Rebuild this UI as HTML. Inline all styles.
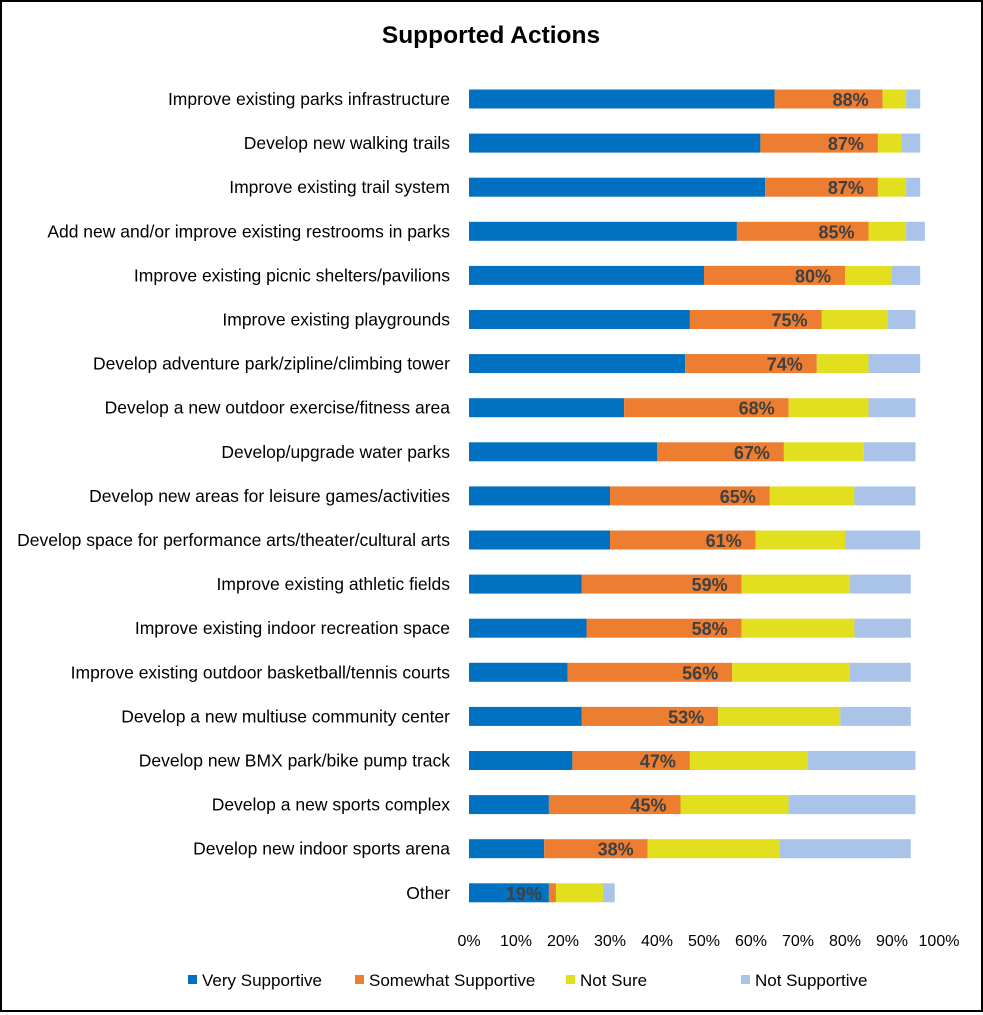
<!DOCTYPE html>
<html><head><meta charset="utf-8">
<style>
body{margin:0;background:#fff;}
#wrap{position:relative;width:983px;height:1012px;box-sizing:border-box;border:2px solid #000;background:#fff;font-family:"Liberation Sans",sans-serif;}
svg text{font-family:"Liberation Sans",sans-serif;}
</style></head><body>
<div id="wrap">
<svg id="chart" width="979" height="1008"></svg>
</div>
<script>
const categories=["Improve existing parks infrastructure","Develop new walking trails","Improve existing trail system","Add new and/or improve existing restrooms in parks","Improve existing picnic shelters/pavilions","Improve existing playgrounds","Develop adventure park/zipline/climbing tower","Develop a new outdoor exercise/fitness area","Develop/upgrade water parks","Develop new areas for leisure games/activities","Develop space for performance arts/theater/cultural arts","Improve existing athletic fields","Improve existing indoor recreation space","Improve existing outdoor basketball/tennis courts","Develop a new multiuse community center","Develop new BMX park/bike pump track","Develop a new sports complex","Develop new indoor sports arena","Other"];
const verySupportive=[65,62,63,57,50,47,46,33,40,30,30,24,25,21,24,22,17,16,17];
const somewhatSupportive=[23,25,24,28,30,28,28,35,27,34,31,34,33,35,29,25,28,22,1.5];
const notSure=[5,5,6,8,10,14,11,17,17,18,19,23,24,25,26,25,23,28,10];
const notSupportive=[3,4,3,4,6,6,11,10,11,13,16,13,12,13,15,23,27,28,2.5];
const totalLabels=["88%","87%","87%","85%","80%","75%","74%","68%","67%","65%","61%","59%","58%","56%","53%","47%","45%","38%","19%"];
const tickLabels=["0%","10%","20%","30%","40%","50%","60%","70%","80%","90%","100%"];
const seriesNames=["Very Supportive","Somewhat Supportive","Not Sure","Not Supportive"];
const colors=["#0070C0","#ED7D31","#E2DF1F","#A9C4E8"];
const NS="http://www.w3.org/2000/svg";
const svg=document.getElementById('chart');
const X0=467,X1=937,Y0=97,STEP=44.1,BH=19;
const x=v=>X0+(X1-X0)*v/100;
const y=i=>Y0+i*STEP;
function mk(t,a,txt){const e=document.createElementNS(NS,t);for(const k in a)e.setAttribute(k,a[k]);if(txt!==undefined)e.textContent=txt;svg.appendChild(e);return e;}
let t=mk('text',{x:489,y:41,'text-anchor':'middle','font-size':24.5,'font-weight':'bold',fill:'#000'},'Supported Actions');


const series=[verySupportive,somewhatSupportive,notSure,notSupportive];
categories.forEach((c,i)=>{
  let l=mk('text',{x:448,y:y(i)+6,'text-anchor':'end','font-size':17.5,fill:'#000'},c);
  
  
  let acc=0;
  series.forEach((s,k)=>{
    const r=mk('rect',{x:x(acc),y:y(i)-BH/2,width:x(acc+s[i])-x(acc),height:BH,fill:colors[k]});
    
    
    acc+=s[i];
  });
  const oe=verySupportive[i]+somewhatSupportive[i];
  const lb=mk('text',{x:x(oe)-32,y:y(i)+7,'text-anchor':'middle','font-size':18,'font-weight':'bold',fill:'#404040'},totalLabels[i]);
  
  
});
tickLabels.forEach((tl,j)=>{
  const e=mk('text',{x:x(j*10),y:944,'text-anchor':'middle','font-size':16,fill:'#000'},tl);
  
  
});
const legX=[186,353,564,739];
seriesNames.forEach((n,k)=>{
  const s=mk('rect',{x:legX[k],y:973,width:9,height:9,fill:colors[k]});
  
  
  const e=mk('text',{x:legX[k]+14,y:984,'font-size':17,fill:'#000'},n);
  
  
});
</script>
</body></html>
